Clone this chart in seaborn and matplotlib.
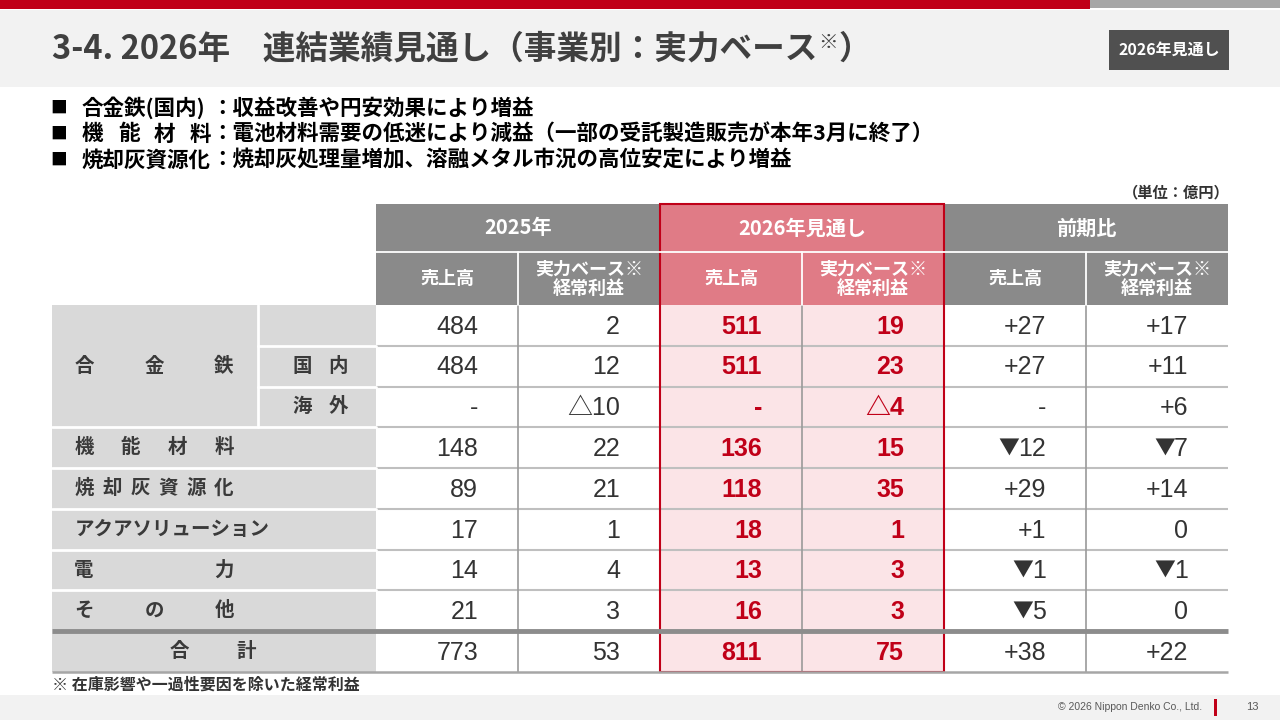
import matplotlib
matplotlib.use('Agg')
import matplotlib.pyplot as plt
from matplotlib.colors import ListedColormap
from matplotlib.patches import Rectangle
import numpy as np
import pandas as pd
import seaborn as sns


# 表データ（単位：億円）
segments = ['合金鉄', '国内', '海外', '機能材料', '焼却灰資源化', 'アクアソリューション', '電力', 'その他', '合計']
sales_2025 = [484, 484, None, 148, 89, 17, 14, 21, 773]
profit_2025 = [2, 12, -10, 22, 21, 1, 4, 3, 53]
sales_2026 = [511, 511, None, 136, 118, 18, 13, 16, 811]
profit_2026 = [19, 23, -4, 15, 35, 1, 3, 3, 75]
diff_sales = [27, 27, None, -12, 29, 1, -1, -5, 38]
diff_profit = [17, 11, 6, -7, 14, 0, -1, 0, 22]

groups = ['2025年', '2026年見通し', '前期比']
sub_headers = ['売上高', '実力ベース※\n経常利益']

bullet_labels = ['合金鉄(国内)', '機能材料', '焼却灰資源化']
bullet_texts = ['：収益改善や円安効果により増益',
                '：電池材料需要の低迷により減益（一部の受託製造販売が本年3月に終了）',
                '：焼却灰処理量増加、溶融メタル市況の高位安定により増益']

title = '3-4. 2026年　連結業績見通し（事業別：実力ベース'
badge = '2026年見通し'
unit_note = '（単位：億円）'
footnote = '※ 在庫影響や一過性要因を除いた経常利益'
copyright_text = '© 2026 Nippon Denko Co., Ltd.'
page_no = '13'


def fmt_actual(v):
    if v is None:
        return '-'
    if v < 0:
        return '△{}'.format(-v)
    return str(v)


def fmt_diff(v):
    if v is None:
        return '-'
    if v < 0:
        return '▼{}'.format(-v)
    if v > 0:
        return '+{}'.format(v)
    return '0'


columns = [(sales_2025, fmt_actual), (profit_2025, fmt_actual),
           (sales_2026, fmt_actual), (profit_2026, fmt_actual),
           (diff_sales, fmt_diff), (diff_profit, fmt_diff)]
col_group = [0, 0, 1, 1, 2, 2]

sns.set_theme(style='white')
plt.rcParams['font.family'] = ['Noto Sans CJK JP', 'DejaVu Sans']
NUM_FONT = ['Liberation Sans', 'Noto Sans CJK JP', 'DejaVu Sans']

RED = '#c00018'
HEAD_GRAY = '#8a8a8a'
LABEL_GRAY = '#d9d9d9'
PINK_HEAD = '#e07b86'
PINK_BODY = '#fbe4e7'
TEXT = '#333333'
LABEL_TEXT = '#3a3a3a'

# レイアウト（ピクセル）
X0, X1 = 376, 1228
LX0, SUBX = 52, 258
YH0, YH1, YB0, YB1 = 204, 252, 305, 672
ncol = len(columns)
nrow = len(segments)
cw = (X1 - X0) / ncol
rh = (YB1 - YB0) / nrow

fig = plt.figure(figsize=(12.8, 7.2), dpi=100)
renderer = fig.canvas.get_renderer()

# 本体セル（seaborn heatmap で塗り分け）
tab = fig.add_axes([X0 / 1280, 1 - YB1 / 720, (X1 - X0) / 1280, (YB1 - YB0) / 720])
shade = pd.DataFrame([[1 if g == 1 else 0 for g in col_group] for _ in segments],
                     index=segments)
sns.heatmap(shade, cmap=ListedColormap(['white', PINK_BODY]), vmin=0, vmax=1,
            cbar=False, ax=tab, xticklabels=False, yticklabels=False)
tab.hlines(np.arange(1, nrow), 0, ncol, color='#bfbfbf', lw=1.5)
tab.vlines([1, 3, 5], 0, nrow, color='#9a9a9a', lw=1.2)

PAD = 40 / cw
for j, (vals, fmt) in enumerate(columns):
    hl = col_group[j] == 1
    style = dict(fontsize=18, color=RED if hl else TEXT,
                 fontweight='bold' if hl else 'normal', va='center', ha='right')
    for i, v in enumerate(vals):
        s = fmt(v)
        xr = j + 1 - PAD
        if s.startswith('▼'):
            num = tab.text(xr, i + 0.53, s[1:], family=NUM_FONT, **style)
            w = num.get_window_extent(renderer).width / cw
            tab.text(xr - w + 0.01, i + 0.5, '▼', family=['Noto Sans CJK JP'],
                     **dict(style, fontsize=15))
        else:
            tab.text(xr, i + 0.53, s, family=NUM_FONT, **style)

# 背景・見出し（透明な全面軸を上に重ねる）
bg = fig.add_axes([0, 0, 1, 1])
bg.set_zorder(3)
bg.patch.set_alpha(0)
bg.set_xlim(0, 1280)
bg.set_ylim(720, 0)
bg.axis('off')

bg.add_patch(Rectangle((0, 0), 1090, 9, color=RED, lw=0))
bg.add_patch(Rectangle((1090, 0), 190, 8, color='#a6a6a6', lw=0))
bg.add_patch(Rectangle((0, 10), 1280, 77, color='#f2f2f2', lw=0))
bg.add_patch(Rectangle((0, 695), 1280, 25, color='#f2f2f2', lw=0))

t = bg.text(52, 49, title, fontsize=23.5, fontweight='bold', color='#404040', va='center')
bb = t.get_window_extent(renderer)
bg.text(bb.x1 + 1, 42, '※', fontsize=14, fontweight='bold', color='#404040', va='center')
bg.text(bb.x1 + 21, 49, '）', fontsize=23.5, fontweight='bold', color='#404040', va='center')

bg.add_patch(Rectangle((1109, 30), 120, 40, color='#505050', lw=0))
bg.text(1169, 50, badge, fontsize=11.5, fontweight='bold', color='white', ha='center', va='center')

# 箇条書き
fs_b = 15.5
em = fs_b * 100 / 72
for k, (lab, txt) in enumerate(zip(bullet_labels, bullet_texts)):
    y = 108 + k * 26
    bg.text(50, y, '■', fontsize=12, color='black', va='center')
    if k == 1:
        for cx, ch in zip(np.linspace(82 + em / 2, 82 + 5.5 * em, len(lab)), lab):
            bg.text(cx, y, ch, fontsize=fs_b, fontweight='bold', color='black', ha='center', va='center')
    else:
        bg.text(82, y, lab, fontsize=fs_b, fontweight='bold', color='black', va='center')
    bg.text(82 + 6 * em, y, txt, fontsize=fs_b, fontweight='bold', color='black', va='center')

bg.text(X1 + 2, 192, unit_note, fontsize=11, fontweight='bold', color='#333333', ha='right', va='center')

# 表ヘッダー
bg.add_patch(Rectangle((X0, YH0), X1 - X0, YB0 - YH0, color=HEAD_GRAY, lw=0))
bg.add_patch(Rectangle((X0 + 2 * cw, YH0), 2 * cw, YB0 - YH0, color=PINK_HEAD, lw=0))
bg.plot([X0, X1], [YH1, YH1], color='white', lw=1.3)
for j in range(ncol):
    if j % 2 == 1:
        bg.plot([X0 + j * cw] * 2, [YH1, YB0], color='white', lw=1.3)
    bg.text(X0 + (j + 0.5) * cw, (YH1 + YB0) / 2, sub_headers[j % 2], fontsize=13,
            fontweight='bold', color='white', ha='center', va='center', linespacing=1.0)
for g, name in enumerate(groups):
    bg.text(X0 + (2 * g + 1) * cw, (YH0 + YH1) / 2, name, fontsize=14.5,
            fontweight='bold', color='white', ha='center', va='center')

# 表の左側ラベル
bg.add_patch(Rectangle((LX0, YB0), X0 - LX0, YB1 - YB0, color=LABEL_GRAY, lw=0))
for r in range(1, nrow - 1):
    xa = SUBX if r < 3 else LX0
    bg.plot([xa, X0], [YB0 + r * rh] * 2, color='white', lw=2)
bg.plot([SUBX, SUBX], [YB0, YB0 + 3 * rh], color='white', lw=2)


def spread(text, c0, c1, y, fs=14):
    for cx, ch in zip(np.linspace(c0, c1, len(text)), text):
        bg.text(cx, y, ch, fontsize=fs, fontweight='bold', color=LABEL_TEXT, ha='center', va='center')


def row_y(r):
    return YB0 + (r + 0.5) * rh


spread(segments[0], 84, 224, YB0 + 1.5 * rh)
spread(segments[1], 302, 338, row_y(1))
spread(segments[2], 302, 338, row_y(2))
spread(segments[3], 84, 224, row_y(3))
spread(segments[4], 84, 224, row_y(4))
bg.text(75, row_y(5), segments[5], fontsize=14, fontweight='bold', color=LABEL_TEXT, va='center')
spread(segments[6], 84, 224, row_y(6))
spread(segments[7], 84, 224, row_y(7))
spread(segments[8], 179, 246, row_y(8))

# 合計行の太線・下端線・2026年枠
bg.plot([LX0, X1], [YB0 + 8 * rh] * 2, color='#8c8c8c', lw=3.5, solid_capstyle='butt')
bg.plot([LX0, X1], [YB1, YB1], color='#a6a6a6', lw=1.8, solid_capstyle='butt')
bg.add_patch(Rectangle((X0 + 2 * cw, YH0), 2 * cw, YB1 - YH0, fill=False, ec=RED, lw=1.5))

bg.text(52, 685, footnote, fontsize=11.5, fontweight='bold', color='#333333', va='center')

# フッター
bg.text(1202, 707, copyright_text, fontsize=7.5, family=['Liberation Sans', 'DejaVu Sans'],
        color='#595959', ha='right', va='center')
bg.add_patch(Rectangle((1214, 699), 3, 17, color=RED, lw=0))
bg.text(1252, 707, page_no, fontsize=8, family=['Liberation Sans', 'DejaVu Sans'],
        color='#595959', ha='center', va='center')

fig.savefig('out.png', dpi=100)
